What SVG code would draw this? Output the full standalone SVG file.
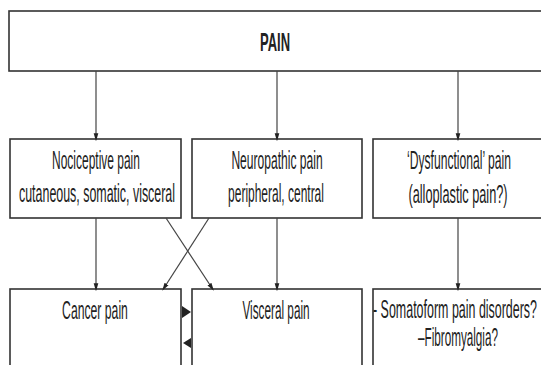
<svg xmlns="http://www.w3.org/2000/svg" width="541" height="365" viewBox="0 0 541 365">
<style>
.box{fill:#fff;stroke:#333;stroke-width:1.6}
.t{font-family:"Liberation Sans",Arial,sans-serif;font-size:26px;fill:#222;text-anchor:middle}
.b{font-weight:bold}
.c{stroke:#444;stroke-width:1.2;fill:none}
.tri{fill:#222}
</style>
<defs>
<marker id="ah" markerUnits="userSpaceOnUse" markerWidth="8" markerHeight="12" refX="7" refY="4" orient="auto" viewBox="0 0 12 8">
<path d="M0,0.5 L12,4 L0,7.5 Z" fill="#222"/>
</marker>
</defs>
<rect width="541" height="365" fill="#fff"/>
<g id="pain">
<rect class="box" x="9" y="11" width="545" height="60"/>
<text class="t b" transform="translate(275,51) scale(0.47,1)" x="0" y="0" textLength="64" lengthAdjust="spacingAndGlyphs">PAIN</text>
</g>
<g id="nociceptive">
<rect class="box" x="10" y="139" width="171" height="79"/>
<text class="t" transform="translate(96,169) scale(0.47,1)" x="0" y="0" textLength="187" lengthAdjust="spacingAndGlyphs">Nociceptive pain</text>
<text class="t" transform="translate(97,202) scale(0.47,1)" x="0" y="0" textLength="332" lengthAdjust="spacingAndGlyphs">cutaneous, somatic, visceral</text>
</g>
<g id="neuropathic">
<rect class="box" x="192" y="139" width="170" height="79"/>
<text class="t" transform="translate(277,169) scale(0.47,1)" x="0" y="0" textLength="194" lengthAdjust="spacingAndGlyphs">Neuropathic pain</text>
<text class="t" transform="translate(276,202) scale(0.47,1)" x="0" y="0" textLength="204" lengthAdjust="spacingAndGlyphs">peripheral, central</text>
</g>
<g id="dysfunctional">
<rect class="box" x="373" y="139" width="180" height="79"/>
<text class="t" transform="translate(459,169) scale(0.47,1)" x="0" y="0" textLength="221" lengthAdjust="spacingAndGlyphs">‘Dysfunctional’ pain</text>
<text class="t" transform="translate(458,203) scale(0.47,1)" x="0" y="0" textLength="211" lengthAdjust="spacingAndGlyphs">(alloplastic pain?)</text>
</g>
<g id="cancer">
<rect class="box" x="10" y="289" width="171" height="90"/>
<text class="t" transform="translate(95,319) scale(0.47,1)" x="0" y="0" textLength="140" lengthAdjust="spacingAndGlyphs">Cancer pain</text>
</g>
<g id="visceral">
<rect class="box" x="192" y="289" width="170" height="90"/>
<text class="t" transform="translate(276,319) scale(0.47,1)" x="0" y="0" textLength="143" lengthAdjust="spacingAndGlyphs">Visceral pain</text>
</g>
<g id="somatoform">
<rect class="box" x="373" y="289" width="180" height="90"/>
<text class="t" transform="translate(455,318) scale(0.47,1)" x="0" y="0" textLength="349" lengthAdjust="spacingAndGlyphs">- Somatoform pain disorders?</text>
<text class="t" transform="translate(458,346) scale(0.47,1)" x="0" y="0" textLength="170" lengthAdjust="spacingAndGlyphs">–Fibromyalgia?</text>
</g>
<g id="connectors">
<line class="c" x1="96" y1="71" x2="96" y2="138" marker-end="url(#ah)"/>
<line class="c" x1="277" y1="71" x2="277" y2="138" marker-end="url(#ah)"/>
<line class="c" x1="458" y1="71" x2="458" y2="138" marker-end="url(#ah)"/>
<line class="c" x1="96" y1="218" x2="96" y2="288" marker-end="url(#ah)"/>
<line class="c" x1="277" y1="218" x2="277" y2="288" marker-end="url(#ah)"/>
<line class="c" x1="458" y1="218" x2="458" y2="288" marker-end="url(#ah)"/>
<line class="c" x1="166" y1="218" x2="212" y2="288" marker-end="url(#ah)"/>
<line class="c" x1="209" y1="218" x2="164" y2="288" marker-end="url(#ah)"/>
<polygon class="tri" points="182,306 191,312 182,318"/>
<polygon class="tri" points="191,338 183,343 191,348"/>
</g>
</svg>
